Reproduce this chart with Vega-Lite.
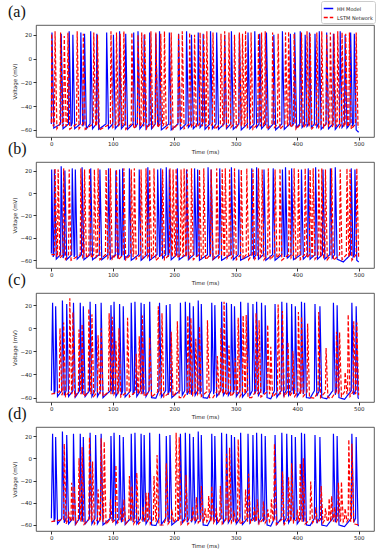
{
"$schema": "https://vega.github.io/schema/vega-lite/v6.json",
"padding": {"left": 7, "top": 0, "right": 8, "bottom": 0},
"bounds": "flush",
"spacing": 25,
"background": "white",
"config": {
 "view": {"stroke": "#333", "strokeWidth": 0.8},
 "axis": {"labelFont": "DejaVu Sans", "titleFont": "DejaVu Sans", "labelFontSize": 5.5, "titleFontSize": 5.5, "titleFontWeight": "normal", "labelColor": "#222", "titleColor": "#222", "tickColor": "#333", "tickSize": 3, "domain": false, "grid": false, "labelPadding": 1.5, "titlePadding": 2, "labelOverlap": false},
 "title": {"font": "Liberation Serif", "fontSize": 16, "fontWeight": "normal", "anchor": "start", "frame": "group", "dx": -28, "offset": 5, "color": "#111"},
 "legend": {"title": null, "orient": "none", "legendX": 285, "legendY": -24, "direction": "vertical", "strokeColor": "#ccc", "fillColor": "white", "padding": 2, "cornerRadius": 2, "labelFont": "DejaVu Sans", "labelFontSize": 5, "labelColor": "#222", "symbolType": "stroke", "symbolSize": 90, "symbolStrokeWidth": 1.4, "rowPadding": 0, "labelOffset": 3}
},
"datasets": {
"aH": [{"t":0,"v":-55},{"t":1,"v":22},{"t":4,"v":-58.5},{"t":15,"v":-55},{"t":16,"v":21},{"t":19,"v":-59},{"t":28,"v":-55},{"t":29,"v":23},{"t":32,"v":-57},{"t":34,"v":-54},{"t":35,"v":20},{"t":38,"v":-59},{"t":47,"v":-55},{"t":48,"v":22},{"t":51,"v":-57},{"t":53,"v":-54},{"t":54,"v":21},{"t":57,"v":-59},{"t":63,"v":-55},{"t":64,"v":23},{"t":67,"v":-59},{"t":73,"v":-55},{"t":74,"v":21},{"t":77,"v":-59.5},{"t":89,"v":-55},{"t":90,"v":22},{"t":93,"v":-59},{"t":100,"v":-55},{"t":101,"v":20},{"t":104,"v":-59},{"t":110,"v":-55},{"t":111,"v":23},{"t":114,"v":-59},{"t":120,"v":-55},{"t":121,"v":21},{"t":124,"v":-59.5},{"t":133,"v":-55},{"t":134,"v":22},{"t":137,"v":-58},{"t":140,"v":-55},{"t":141,"v":23},{"t":144,"v":-59},{"t":150,"v":-55},{"t":151,"v":20},{"t":154,"v":-59},{"t":159,"v":-55},{"t":160,"v":22},{"t":163,"v":-59},{"t":169,"v":-55},{"t":170,"v":21},{"t":173,"v":-57},{"t":175,"v":-54},{"t":176,"v":23},{"t":179,"v":-60},{"t":191,"v":-55},{"t":192,"v":22},{"t":195,"v":-60},{"t":206,"v":-55},{"t":207,"v":21},{"t":210,"v":-59.5},{"t":219,"v":-55},{"t":220,"v":23},{"t":223,"v":-58},{"t":227,"v":-55},{"t":228,"v":20},{"t":231,"v":-59},{"t":238,"v":-55},{"t":239,"v":22},{"t":242,"v":-58},{"t":246,"v":-55},{"t":247,"v":21},{"t":250,"v":-59.5},{"t":258,"v":-55},{"t":259,"v":23},{"t":262,"v":-59},{"t":268,"v":-55},{"t":269,"v":22},{"t":272,"v":-59.5},{"t":281,"v":-55},{"t":282,"v":20},{"t":285,"v":-59},{"t":292,"v":-55},{"t":293,"v":23},{"t":296,"v":-59.5},{"t":305,"v":-55},{"t":306,"v":21},{"t":309,"v":-60},{"t":319,"v":-55},{"t":320,"v":22},{"t":323,"v":-59},{"t":330,"v":-55},{"t":331,"v":23},{"t":334,"v":-58},{"t":338,"v":-55},{"t":339,"v":21},{"t":342,"v":-59},{"t":349,"v":-55},{"t":350,"v":22},{"t":353,"v":-59.5},{"t":361,"v":-55},{"t":362,"v":20},{"t":365,"v":-60},{"t":375,"v":-55},{"t":376,"v":23},{"t":379,"v":-59.5},{"t":388,"v":-55},{"t":389,"v":21},{"t":392,"v":-57},{"t":395,"v":-54},{"t":396,"v":22},{"t":399,"v":-58},{"t":404,"v":-55},{"t":405,"v":23},{"t":408,"v":-58},{"t":412,"v":-55},{"t":413,"v":20},{"t":416,"v":-57},{"t":419,"v":-55},{"t":420,"v":22},{"t":423,"v":-58},{"t":428,"v":-55},{"t":429,"v":21},{"t":432,"v":-57.5},{"t":435,"v":-55},{"t":436,"v":23},{"t":439,"v":-59.5},{"t":447,"v":-55},{"t":448,"v":22},{"t":451,"v":-59},{"t":458,"v":-55},{"t":459,"v":21},{"t":462,"v":-59.5},{"t":469,"v":-55},{"t":470,"v":23},{"t":473,"v":-58},{"t":477,"v":-55},{"t":478,"v":20},{"t":481,"v":-58.5},{"t":486,"v":-55},{"t":487,"v":22},{"t":490,"v":-57},{"t":492,"v":-54},{"t":493,"v":21},{"t":496,"v":-60},{"t":500,"v":-62}],
"aL": [{"t":0,"v":-54},{"t":0.5,"v":21},{"t":3,"v":-57},{"t":5,"v":-55},{"t":6,"v":23},{"t":9,"v":-59},{"t":14,"v":-55},{"t":15,"v":22},{"t":18,"v":-57},{"t":20,"v":-55},{"t":21,"v":19},{"t":24,"v":-57},{"t":26,"v":-55},{"t":27,"v":22},{"t":30,"v":-59.5},{"t":41,"v":-55},{"t":42,"v":23},{"t":45,"v":-59},{"t":51,"v":-55},{"t":52,"v":21},{"t":55,"v":-59.5},{"t":68,"v":-55},{"t":69,"v":22},{"t":72,"v":-57},{"t":74,"v":-55},{"t":75,"v":20},{"t":78,"v":-60},{"t":96,"v":-55},{"t":97,"v":23},{"t":100,"v":-58},{"t":105,"v":-55},{"t":106,"v":22},{"t":109,"v":-57},{"t":111,"v":-55},{"t":112,"v":21},{"t":115,"v":-57},{"t":117,"v":-55},{"t":118,"v":23},{"t":121,"v":-59.5},{"t":130,"v":-55},{"t":131,"v":22},{"t":134,"v":-59},{"t":140,"v":-55},{"t":141,"v":20},{"t":144,"v":-57},{"t":146,"v":-55},{"t":147,"v":22},{"t":150,"v":-57},{"t":151,"v":-55},{"t":152,"v":21},{"t":155,"v":-59},{"t":161,"v":-55},{"t":162,"v":23},{"t":165,"v":-58},{"t":169,"v":-55},{"t":170,"v":22},{"t":173,"v":-58},{"t":177,"v":-55},{"t":178,"v":21},{"t":181,"v":-57},{"t":183,"v":-55},{"t":184,"v":23},{"t":187,"v":-59},{"t":194,"v":-55},{"t":195,"v":22},{"t":198,"v":-59.5},{"t":206,"v":-55},{"t":207,"v":21},{"t":210,"v":-57},{"t":212,"v":-55},{"t":213,"v":23},{"t":216,"v":-59},{"t":224,"v":-55},{"t":225,"v":22},{"t":228,"v":-58},{"t":232,"v":-55},{"t":233,"v":20},{"t":236,"v":-58},{"t":241,"v":-55},{"t":242,"v":22},{"t":245,"v":-57},{"t":247,"v":-55},{"t":248,"v":21},{"t":251,"v":-57},{"t":252,"v":-55},{"t":253,"v":23},{"t":256,"v":-59},{"t":262,"v":-55},{"t":263,"v":22},{"t":266,"v":-59.5},{"t":275,"v":-55},{"t":276,"v":21},{"t":279,"v":-57},{"t":281,"v":-55},{"t":282,"v":23},{"t":285,"v":-57.5},{"t":288,"v":-55},{"t":289,"v":22},{"t":292,"v":-58},{"t":297,"v":-55},{"t":298,"v":20},{"t":301,"v":-58},{"t":305,"v":-55},{"t":306,"v":22},{"t":309,"v":-57},{"t":310,"v":-55},{"t":311,"v":21},{"t":314,"v":-57},{"t":315,"v":-55},{"t":316,"v":23},{"t":319,"v":-58},{"t":324,"v":-55},{"t":325,"v":22},{"t":328,"v":-59.5},{"t":336,"v":-55},{"t":337,"v":21},{"t":340,"v":-57},{"t":341,"v":-55},{"t":342,"v":22},{"t":345,"v":-57},{"t":347,"v":-55},{"t":348,"v":23},{"t":351,"v":-59.5},{"t":359,"v":-55},{"t":360,"v":22},{"t":363,"v":-58},{"t":368,"v":-55},{"t":369,"v":21},{"t":372,"v":-59.5},{"t":380,"v":-55},{"t":381,"v":22},{"t":384,"v":-57},{"t":385,"v":-55},{"t":386,"v":23},{"t":389,"v":-58},{"t":394,"v":-55},{"t":395,"v":21},{"t":398,"v":-59.5},{"t":406,"v":-55},{"t":407,"v":22},{"t":410,"v":-58},{"t":415,"v":-55},{"t":416,"v":23},{"t":419,"v":-57},{"t":420,"v":-55},{"t":421,"v":21},{"t":424,"v":-59},{"t":431,"v":-55},{"t":432,"v":22},{"t":435,"v":-58},{"t":439,"v":-55},{"t":440,"v":23},{"t":443,"v":-58},{"t":447,"v":-55},{"t":448,"v":20},{"t":451,"v":-57.5},{"t":453,"v":-55},{"t":454,"v":22},{"t":457,"v":-57.5},{"t":459,"v":-55},{"t":460,"v":21},{"t":463,"v":-57.5},{"t":465,"v":-55},{"t":466,"v":23},{"t":469,"v":-57.5},{"t":472,"v":-55},{"t":473,"v":22},{"t":476,"v":-57.5},{"t":478,"v":-55},{"t":479,"v":21},{"t":482,"v":-57.5},{"t":484,"v":-55},{"t":485,"v":22},{"t":488,"v":-59.5},{"t":495,"v":-55},{"t":496,"v":22},{"t":499,"v":-58},{"t":500,"v":-58}],
"bH": [{"t":0,"v":-54},{"t":0.5,"v":21},{"t":3,"v":-57},{"t":4,"v":-55},{"t":5,"v":21},{"t":8,"v":-59},{"t":15,"v":-55},{"t":16,"v":24},{"t":19,"v":-58},{"t":21,"v":-55},{"t":22,"v":20},{"t":25,"v":-59.5},{"t":33,"v":-55},{"t":34,"v":22},{"t":37,"v":-57},{"t":38,"v":-55},{"t":39,"v":21},{"t":42,"v":-59},{"t":49,"v":-55},{"t":50,"v":23},{"t":53,"v":-59.5},{"t":63,"v":-55},{"t":64,"v":22},{"t":67,"v":-59.5},{"t":78,"v":-55},{"t":79,"v":21},{"t":82,"v":-59.5},{"t":92,"v":-55},{"t":93,"v":22},{"t":96,"v":-59},{"t":104,"v":-55},{"t":105,"v":20},{"t":108,"v":-57},{"t":110,"v":-55},{"t":111,"v":21},{"t":114,"v":-57},{"t":115,"v":-55},{"t":116,"v":22},{"t":119,"v":-59},{"t":126,"v":-55},{"t":127,"v":22},{"t":130,"v":-60},{"t":142,"v":-55},{"t":143,"v":21},{"t":146,"v":-60},{"t":156,"v":-55},{"t":157,"v":23},{"t":160,"v":-60},{"t":172,"v":-55},{"t":173,"v":21},{"t":176,"v":-57},{"t":177,"v":-55},{"t":178,"v":22},{"t":181,"v":-58},{"t":186,"v":-55},{"t":187,"v":23},{"t":190,"v":-57},{"t":191,"v":-55},{"t":192,"v":21},{"t":195,"v":-59.5},{"t":204,"v":-55},{"t":205,"v":22},{"t":208,"v":-59.5},{"t":219,"v":-55},{"t":220,"v":21},{"t":223,"v":-59.5},{"t":232,"v":-55},{"t":233,"v":22},{"t":236,"v":-57},{"t":237,"v":-55},{"t":238,"v":21},{"t":241,"v":-60},{"t":254,"v":-55},{"t":255,"v":23},{"t":258,"v":-57},{"t":259,"v":-55},{"t":260,"v":21},{"t":263,"v":-59.5},{"t":273,"v":-55},{"t":274,"v":22},{"t":277,"v":-60},{"t":292,"v":-55},{"t":293,"v":23},{"t":296,"v":-59.5},{"t":304,"v":-55},{"t":305,"v":21},{"t":308,"v":-60},{"t":325,"v":-55},{"t":326,"v":22},{"t":329,"v":-58},{"t":333,"v":-55},{"t":334,"v":23},{"t":337,"v":-59},{"t":345,"v":-55},{"t":346,"v":21},{"t":349,"v":-60},{"t":360,"v":-55},{"t":361,"v":22},{"t":364,"v":-60},{"t":375,"v":-55},{"t":376,"v":21},{"t":379,"v":-57},{"t":380,"v":-55},{"t":381,"v":23},{"t":384,"v":-58},{"t":390,"v":-55},{"t":391,"v":22},{"t":394,"v":-59.5},{"t":406,"v":-55},{"t":407,"v":21},{"t":410,"v":-59},{"t":417,"v":-55},{"t":418,"v":22},{"t":421,"v":-59},{"t":429,"v":-55},{"t":430,"v":23},{"t":433,"v":-59},{"t":441,"v":-55},{"t":442,"v":21},{"t":445,"v":-59},{"t":453,"v":-55},{"t":454,"v":22},{"t":457,"v":-58},{"t":461,"v":-55},{"t":462,"v":23},{"t":465,"v":-59},{"t":475,"v":-61.5},{"t":487,"v":-55},{"t":488,"v":22},{"t":491,"v":-57},{"t":493,"v":-55},{"t":494,"v":21},{"t":497,"v":-60},{"t":500,"v":-61.5}],
"bL": [{"t":0,"v":-55},{"t":5,"v":-55},{"t":6,"v":22},{"t":9,"v":-57},{"t":10,"v":-55},{"t":11,"v":21},{"t":14,"v":-58},{"t":19,"v":-55},{"t":20,"v":22},{"t":23,"v":-59},{"t":28,"v":-55},{"t":29,"v":21},{"t":32,"v":-60},{"t":47,"v":-55},{"t":48,"v":22},{"t":51,"v":-57},{"t":53,"v":-55},{"t":54,"v":21},{"t":57,"v":-58},{"t":61,"v":-55},{"t":62,"v":22},{"t":65,"v":-58},{"t":69,"v":-55},{"t":70,"v":21},{"t":73,"v":-57},{"t":75,"v":-55},{"t":76,"v":22},{"t":79,"v":-59.5},{"t":88,"v":-55},{"t":89,"v":21},{"t":92,"v":-58},{"t":95,"v":-55},{"t":96,"v":22},{"t":99,"v":-59},{"t":105,"v":-55},{"t":106,"v":21},{"t":109,"v":-59.5},{"t":117,"v":-55},{"t":118,"v":22},{"t":121,"v":-59.5},{"t":129,"v":-55},{"t":130,"v":21},{"t":133,"v":-57},{"t":134,"v":-55},{"t":135,"v":22},{"t":138,"v":-59},{"t":145,"v":-55},{"t":146,"v":21},{"t":149,"v":-58},{"t":153,"v":-55},{"t":154,"v":22},{"t":157,"v":-57},{"t":159,"v":-55},{"t":160,"v":21},{"t":163,"v":-58},{"t":166,"v":-55},{"t":167,"v":22},{"t":170,"v":-60},{"t":180,"v":-55},{"t":181,"v":21},{"t":184,"v":-59.5},{"t":192,"v":-55},{"t":193,"v":22},{"t":196,"v":-57},{"t":197,"v":-55},{"t":198,"v":21},{"t":201,"v":-57},{"t":202,"v":-55},{"t":203,"v":22},{"t":206,"v":-58},{"t":210,"v":-55},{"t":211,"v":21},{"t":214,"v":-57},{"t":215,"v":-55},{"t":216,"v":22},{"t":219,"v":-57},{"t":220,"v":-55},{"t":221,"v":21},{"t":224,"v":-58},{"t":227,"v":-55},{"t":228,"v":22},{"t":231,"v":-59.5},{"t":240,"v":-55},{"t":241,"v":21},{"t":244,"v":-58},{"t":247,"v":-55},{"t":248,"v":22},{"t":251,"v":-59.5},{"t":259,"v":-55},{"t":260,"v":21},{"t":263,"v":-59},{"t":268,"v":-55},{"t":269,"v":22},{"t":272,"v":-58},{"t":277,"v":-55},{"t":278,"v":21},{"t":281,"v":-57},{"t":282,"v":-55},{"t":283,"v":22},{"t":286,"v":-58},{"t":289,"v":-55},{"t":290,"v":21},{"t":293,"v":-58},{"t":297,"v":-55},{"t":298,"v":22},{"t":301,"v":-59.5},{"t":308,"v":-55},{"t":309,"v":21},{"t":312,"v":-59},{"t":317,"v":-55},{"t":318,"v":22},{"t":321,"v":-59.5},{"t":327,"v":-55},{"t":328,"v":21},{"t":331,"v":-59},{"t":336,"v":-55},{"t":337,"v":22},{"t":340,"v":-57},{"t":342,"v":-55},{"t":343,"v":21},{"t":346,"v":-59.5},{"t":352,"v":-55},{"t":353,"v":22},{"t":356,"v":-59.5},{"t":363,"v":-55},{"t":364,"v":21},{"t":367,"v":-58},{"t":371,"v":-55},{"t":372,"v":22},{"t":375,"v":-60},{"t":386,"v":-55},{"t":387,"v":21},{"t":390,"v":-58},{"t":394,"v":-55},{"t":395,"v":22},{"t":398,"v":-58},{"t":401,"v":-55},{"t":402,"v":21},{"t":405,"v":-59.5},{"t":412,"v":-55},{"t":413,"v":22},{"t":416,"v":-58},{"t":420,"v":-55},{"t":421,"v":21},{"t":424,"v":-57},{"t":425,"v":-55},{"t":426,"v":22},{"t":429,"v":-59},{"t":434,"v":-55},{"t":435,"v":21},{"t":438,"v":-57},{"t":439,"v":-55},{"t":440,"v":22},{"t":443,"v":-57},{"t":445,"v":-55},{"t":446,"v":21},{"t":449,"v":-59.5},{"t":455,"v":-55},{"t":456,"v":22},{"t":459,"v":-60},{"t":469,"v":-55},{"t":470,"v":21},{"t":473,"v":-59.5},{"t":480,"v":-55},{"t":481,"v":22},{"t":484,"v":-57},{"t":485,"v":-55},{"t":486,"v":21},{"t":489,"v":-60},{"t":496,"v":-55},{"t":497,"v":22},{"t":500,"v":-58}],
"cdH": [{"t":0,"v":-54},{"t":2,"v":22},{"t":4.5,"v":-57},{"t":6,"v":-54},{"t":7,"v":19},{"t":10,"v":-59},{"t":17,"v":-54},{"t":18,"v":24},{"t":21,"v":-58},{"t":24,"v":-54},{"t":25,"v":21},{"t":28,"v":-59},{"t":35,"v":-54},{"t":36,"v":22},{"t":39,"v":-59.5},{"t":46,"v":-54},{"t":47,"v":22},{"t":50,"v":-57},{"t":51,"v":-54},{"t":52,"v":19},{"t":55,"v":-59},{"t":62,"v":-54},{"t":63,"v":23},{"t":66,"v":-59},{"t":71,"v":-54},{"t":72,"v":21},{"t":75,"v":-59},{"t":80,"v":-54},{"t":81,"v":22},{"t":84,"v":-60},{"t":96,"v":-54},{"t":97,"v":20},{"t":100,"v":-57},{"t":101,"v":-54},{"t":102,"v":23},{"t":105,"v":-59},{"t":110,"v":-54},{"t":111,"v":21},{"t":114,"v":-57.5},{"t":116,"v":-54},{"t":117,"v":19},{"t":120,"v":-59.5},{"t":129,"v":-54},{"t":130,"v":22},{"t":133,"v":-57.5},{"t":135,"v":-54},{"t":136,"v":23},{"t":139,"v":-59},{"t":145,"v":-54},{"t":146,"v":22},{"t":149,"v":-57},{"t":150,"v":-54},{"t":151,"v":21},{"t":154,"v":-59},{"t":159,"v":-54},{"t":160,"v":23},{"t":163,"v":-60},{"t":170,"v":-60.5},{"t":175,"v":-54},{"t":176,"v":22},{"t":179,"v":-59.5},{"t":186,"v":-54},{"t":187,"v":20},{"t":190,"v":-57.5},{"t":192,"v":-54},{"t":193,"v":21},{"t":196,"v":-60},{"t":209,"v":-54},{"t":210,"v":22},{"t":213,"v":-58},{"t":217,"v":-54},{"t":218,"v":23},{"t":221,"v":-57.5},{"t":224,"v":-54},{"t":225,"v":22},{"t":228,"v":-57.5},{"t":230,"v":-54},{"t":231,"v":19},{"t":234,"v":-58},{"t":238,"v":-54},{"t":239,"v":24},{"t":242,"v":-57},{"t":243,"v":-54},{"t":244,"v":21},{"t":247,"v":-60},{"t":254,"v":-60.5},{"t":260,"v":-54},{"t":261,"v":22},{"t":264,"v":-57},{"t":265,"v":-54},{"t":266,"v":20},{"t":269,"v":-59},{"t":276,"v":-54},{"t":277,"v":23},{"t":280,"v":-58},{"t":284,"v":-54},{"t":285,"v":22},{"t":288,"v":-58},{"t":292,"v":-54},{"t":293,"v":21},{"t":296,"v":-57},{"t":297,"v":-54},{"t":298,"v":19},{"t":301,"v":-59},{"t":307,"v":-54},{"t":308,"v":23},{"t":311,"v":-59.5},{"t":319,"v":-54},{"t":320,"v":22},{"t":323,"v":-58},{"t":327,"v":-54},{"t":328,"v":21},{"t":331,"v":-57},{"t":333,"v":-54},{"t":334,"v":23},{"t":337,"v":-58},{"t":341,"v":-54},{"t":342,"v":22},{"t":345,"v":-57},{"t":347,"v":-54},{"t":348,"v":20},{"t":351,"v":-60},{"t":357,"v":-61},{"t":363,"v":-54},{"t":364,"v":21},{"t":367,"v":-59.5},{"t":374,"v":-54},{"t":375,"v":23},{"t":378,"v":-58},{"t":382,"v":-54},{"t":383,"v":22},{"t":386,"v":-58},{"t":390,"v":-54},{"t":391,"v":21},{"t":394,"v":-57},{"t":396,"v":-54},{"t":397,"v":19},{"t":400,"v":-59},{"t":406,"v":-54},{"t":407,"v":23},{"t":410,"v":-57},{"t":411,"v":-54},{"t":412,"v":22},{"t":415,"v":-60},{"t":421,"v":-60.5},{"t":428,"v":-54},{"t":429,"v":21},{"t":432,"v":-58.5},{"t":436,"v":-54},{"t":437,"v":19},{"t":440,"v":-60},{"t":448,"v":-61},{"t":458,"v":-54},{"t":459,"v":22},{"t":462,"v":-57.5},{"t":464,"v":-54},{"t":465,"v":20},{"t":468,"v":-60},{"t":477,"v":-61.5},{"t":488,"v":-54},{"t":489,"v":22},{"t":492,"v":-57.5},{"t":495,"v":-54},{"t":496,"v":19},{"t":499,"v":-60},{"t":500,"v":-61}],
"cL": [{"t":0,"v":-57},{"t":13,"v":-55},{"t":14,"v":0},{"t":17,"v":-58},{"t":19,"v":-55},{"t":20,"v":5},{"t":23,"v":-59},{"t":29,"v":-55},{"t":30,"v":26},{"t":33,"v":-57},{"t":34,"v":-55},{"t":35,"v":14},{"t":38,"v":-59},{"t":44,"v":-55},{"t":45,"v":-1},{"t":48,"v":-57},{"t":49,"v":-55},{"t":50,"v":3.5},{"t":53,"v":-59},{"t":60,"v":-55},{"t":61,"v":17},{"t":64,"v":-57},{"t":65,"v":-55},{"t":66,"v":12},{"t":69,"v":-59},{"t":75,"v":-55},{"t":76,"v":-6},{"t":79,"v":-57},{"t":80,"v":-55},{"t":81,"v":0},{"t":84,"v":-59},{"t":93,"v":-55},{"t":94,"v":13},{"t":97,"v":-57},{"t":98,"v":-55},{"t":99,"v":10},{"t":102,"v":-57},{"t":104,"v":-55},{"t":105,"v":-11},{"t":108,"v":-57},{"t":109,"v":-55},{"t":110,"v":0},{"t":113,"v":-59.5},{"t":123,"v":-55},{"t":124,"v":9},{"t":127,"v":-59.5},{"t":137,"v":-55},{"t":138,"v":-22},{"t":141,"v":-57},{"t":142,"v":-55},{"t":143,"v":-7},{"t":146,"v":-57},{"t":147,"v":-55},{"t":148,"v":11},{"t":151,"v":-59},{"t":159,"v":-55},{"t":160,"v":-8},{"t":163,"v":-59.5},{"t":173,"v":-55},{"t":174,"v":19},{"t":177,"v":-57},{"t":179,"v":-55},{"t":180,"v":13},{"t":183,"v":-59.5},{"t":194,"v":-55},{"t":195,"v":-3},{"t":198,"v":-59},{"t":204,"v":-55},{"t":205,"v":6},{"t":208,"v":-60},{"t":215,"v":-60},{"t":221,"v":-55},{"t":222,"v":11},{"t":225,"v":-57},{"t":226,"v":-55},{"t":227,"v":9},{"t":230,"v":-58},{"t":234,"v":-55},{"t":235,"v":-9},{"t":238,"v":-57},{"t":240,"v":-55},{"t":241,"v":1.5},{"t":244,"v":-59},{"t":253,"v":-55},{"t":254,"v":7},{"t":257,"v":-60},{"t":263,"v":-60},{"t":269,"v":-55},{"t":270,"v":-24},{"t":273,"v":-57},{"t":275,"v":-55},{"t":276,"v":0.6},{"t":279,"v":-57},{"t":280,"v":-55},{"t":281,"v":23},{"t":284,"v":-58},{"t":288,"v":-55},{"t":289,"v":-15},{"t":292,"v":-59},{"t":298,"v":-55},{"t":299,"v":-26},{"t":302,"v":-57},{"t":303,"v":-55},{"t":304,"v":9},{"t":307,"v":-59},{"t":311,"v":-55},{"t":312,"v":11},{"t":315,"v":-57},{"t":316,"v":-55},{"t":317,"v":11.5},{"t":320,"v":-60},{"t":326,"v":-60},{"t":332,"v":-55},{"t":333,"v":13},{"t":336,"v":-57},{"t":337,"v":-55},{"t":338,"v":7},{"t":341,"v":-59.5},{"t":351,"v":-55},{"t":352,"v":3},{"t":355,"v":-57},{"t":356,"v":-55},{"t":357,"v":-16},{"t":360,"v":-59.5},{"t":368,"v":-55},{"t":369,"v":20.6},{"t":372,"v":-57},{"t":375,"v":-55},{"t":376,"v":15},{"t":379,"v":-59},{"t":384,"v":-55},{"t":385,"v":-12},{"t":388,"v":-59},{"t":392,"v":-55},{"t":393,"v":-20},{"t":396,"v":-59},{"t":401,"v":-55},{"t":402,"v":14},{"t":405,"v":-57},{"t":406,"v":-55},{"t":407,"v":10},{"t":410,"v":-59},{"t":416,"v":-55},{"t":417,"v":4},{"t":420,"v":-60},{"t":428,"v":-60.5},{"t":434,"v":-55},{"t":435,"v":14},{"t":438,"v":-60},{"t":446,"v":-55},{"t":447,"v":-17},{"t":450,"v":-60},{"t":456,"v":-60.5},{"t":463,"v":-55},{"t":464,"v":-3},{"t":467,"v":-57},{"t":468,"v":-55},{"t":469,"v":-3.6},{"t":472,"v":-59},{"t":477,"v":-55},{"t":478,"v":-38},{"t":481,"v":-57},{"t":482,"v":-55},{"t":483,"v":12},{"t":486,"v":-59},{"t":491,"v":-55},{"t":492,"v":6},{"t":495,"v":-57},{"t":496,"v":-55},{"t":497,"v":5},{"t":500,"v":-58}],
"dL": [{"t":0,"v":-57},{"t":20,"v":-55},{"t":21,"v":13},{"t":24,"v":-59},{"t":27,"v":-55},{"t":28,"v":-48},{"t":31,"v":-57},{"t":32,"v":-55},{"t":33,"v":-22},{"t":35.5,"v":-57},{"t":36,"v":-55},{"t":37,"v":-25},{"t":40,"v":-59},{"t":44,"v":-55},{"t":45,"v":0},{"t":48,"v":-57},{"t":49,"v":-55},{"t":50,"v":10},{"t":53,"v":-59.5},{"t":61,"v":-55},{"t":62,"v":19},{"t":65,"v":-57},{"t":66,"v":-55},{"t":67,"v":-3},{"t":70,"v":-59},{"t":75,"v":-55},{"t":76,"v":-28},{"t":79,"v":-57},{"t":80,"v":-55},{"t":81,"v":18},{"t":84,"v":-57},{"t":85,"v":-55},{"t":86,"v":15},{"t":89,"v":-59.5},{"t":95,"v":-55},{"t":96,"v":-37},{"t":99,"v":-58},{"t":104,"v":-55},{"t":105,"v":-6},{"t":108,"v":-58},{"t":112,"v":-55},{"t":113,"v":-45},{"t":116,"v":-57},{"t":117,"v":-55},{"t":118,"v":-37},{"t":121,"v":-59},{"t":126,"v":-55},{"t":127,"v":-16},{"t":129.5,"v":-57},{"t":130,"v":-55},{"t":131,"v":-25},{"t":134,"v":-59},{"t":138,"v":-55},{"t":139,"v":-13},{"t":142,"v":-59},{"t":148,"v":-55},{"t":149,"v":-44},{"t":152,"v":-57},{"t":153,"v":-55},{"t":154,"v":-31},{"t":156.5,"v":-57},{"t":157,"v":-55},{"t":158,"v":-31},{"t":161,"v":-59},{"t":166,"v":-55},{"t":167,"v":-16},{"t":170,"v":-57},{"t":171,"v":-55},{"t":172,"v":3},{"t":175,"v":-60},{"t":182,"v":-60},{"t":186,"v":-55},{"t":187,"v":-4.5},{"t":190,"v":-59},{"t":195,"v":-55},{"t":196,"v":-46},{"t":199,"v":-58},{"t":202,"v":-55},{"t":203,"v":23},{"t":206,"v":-57},{"t":207,"v":-55},{"t":208,"v":19},{"t":211,"v":-59.5},{"t":218,"v":-55},{"t":219,"v":-15},{"t":222,"v":-59.5},{"t":229,"v":-55},{"t":230,"v":-44},{"t":233,"v":-57},{"t":235,"v":-55},{"t":236,"v":-35},{"t":239,"v":-58},{"t":243,"v":-55},{"t":244,"v":-25},{"t":247,"v":-58},{"t":249,"v":-55},{"t":250,"v":-45},{"t":253,"v":-57},{"t":255,"v":-55},{"t":256,"v":-34},{"t":259,"v":-57},{"t":260,"v":-55},{"t":261,"v":-25},{"t":264,"v":-58},{"t":267,"v":-55},{"t":268,"v":-45},{"t":271,"v":-58},{"t":274,"v":-55},{"t":275,"v":-25},{"t":278,"v":-59},{"t":284,"v":-55},{"t":285,"v":4},{"t":288,"v":-57},{"t":289,"v":-55},{"t":290,"v":9.5},{"t":293,"v":-58},{"t":296,"v":-55},{"t":297,"v":-47},{"t":300,"v":-58},{"t":303,"v":-55},{"t":304,"v":17},{"t":307,"v":-59.5},{"t":315,"v":-55},{"t":316,"v":-28},{"t":319,"v":-57},{"t":320,"v":-55},{"t":321,"v":-14},{"t":324,"v":-58},{"t":329,"v":-55},{"t":330,"v":-44},{"t":333,"v":-57},{"t":334,"v":-55},{"t":335,"v":-37},{"t":338,"v":-59},{"t":344,"v":-55},{"t":345,"v":-39},{"t":348,"v":-58},{"t":351,"v":-55},{"t":352,"v":-46},{"t":355,"v":-57},{"t":357,"v":-55},{"t":358,"v":-37},{"t":361,"v":-57},{"t":362,"v":-55},{"t":363,"v":13},{"t":366,"v":-59.5},{"t":375,"v":-55},{"t":376,"v":-12},{"t":379,"v":-59.5},{"t":385,"v":-55},{"t":386,"v":-17},{"t":389,"v":-57},{"t":390,"v":-55},{"t":391,"v":-4.5},{"t":394,"v":-58},{"t":399,"v":-55},{"t":400,"v":-46},{"t":403,"v":-57},{"t":404,"v":-55},{"t":405,"v":-4.5},{"t":408,"v":-57},{"t":409,"v":-55},{"t":410,"v":0},{"t":413,"v":-59},{"t":421,"v":-55},{"t":422,"v":-21},{"t":425,"v":-58},{"t":429,"v":-55},{"t":430,"v":-44},{"t":433,"v":-58},{"t":438,"v":-55},{"t":439,"v":-25},{"t":442,"v":-58},{"t":445,"v":-55},{"t":446,"v":-45},{"t":449,"v":-57},{"t":451,"v":-55},{"t":452,"v":-36},{"t":454.5,"v":-57},{"t":455,"v":-55},{"t":456,"v":-34},{"t":459,"v":-57},{"t":460,"v":-55},{"t":461,"v":-44},{"t":464,"v":-57},{"t":466,"v":-55},{"t":467,"v":-22},{"t":470,"v":-57},{"t":471,"v":-55},{"t":472,"v":-21},{"t":475,"v":-57},{"t":477,"v":-55},{"t":478,"v":-45},{"t":481,"v":-57},{"t":483,"v":-55},{"t":484,"v":17},{"t":487,"v":-57},{"t":488,"v":-55},{"t":489,"v":13},{"t":492,"v":-59},{"t":500,"v":-60}]
},
"vconcat": [
 {"title": "(a)", "width": 338, "height": 112,
  "layer": [
   {"data": {"name": "aH"}, "mark": {"type": "line", "strokeWidth": 1.2},
    "encoding": {
     "x": {"field": "t", "type": "quantitative", "scale": {"domain": [-25, 525], "nice": false}, "axis": {"values": [0,100,200,300,400,500], "title": "Time (ms)", "labelOverlap": false}},
     "y": {"field": "v", "type": "quantitative", "scale": {"domain": [-66, 28.3], "nice": false, "zero": false}, "axis": {"values": [-60,-40,-20,0,20], "title": "Voltage (mV)", "labelOverlap": false, "tickCount": 5}},
     "color": {"datum": "HH Model", "type": "nominal", "scale": {"domain": ["HH Model","LSTM Network"], "range": ["#0000ff","#ff0000"]}},
     "strokeDash": {"datum": "HH Model", "type": "nominal", "scale": {"domain": ["HH Model","LSTM Network"], "range": [[1,0],[4,2]]}}
    }},
   {"data": {"name": "aL"}, "mark": {"type": "line", "strokeWidth": 1.2},
    "encoding": {
     "x": {"field": "t", "type": "quantitative"},
     "y": {"field": "v", "type": "quantitative"},
     "color": {"datum": "LSTM Network", "type": "nominal"},
     "strokeDash": {"datum": "LSTM Network", "type": "nominal"}
    }}
  ]},
 {"title": "(b)", "width": 338, "height": 106,
  "layer": [
   {"data": {"name": "bH"}, "mark": {"type": "line", "strokeWidth": 1.2},
    "encoding": {
     "x": {"field": "t", "type": "quantitative", "scale": {"domain": [-25, 525], "nice": false}, "axis": {"values": [0,100,200,300,400,500], "title": "Time (ms)", "labelOverlap": false}},
     "y": {"field": "v", "type": "quantitative", "scale": {"domain": [-66.9, 27.7], "nice": false, "zero": false}, "axis": {"values": [-60,-40,-20,0,20], "title": "Voltage (mV)", "labelOverlap": false, "tickCount": 5}},
     "color": {"datum": "HH Model", "type": "nominal"},
     "strokeDash": {"datum": "HH Model", "type": "nominal"}
    }},
   {"data": {"name": "bL"}, "mark": {"type": "line", "strokeWidth": 1.2},
    "encoding": {
     "x": {"field": "t", "type": "quantitative"},
     "y": {"field": "v", "type": "quantitative"},
     "color": {"datum": "LSTM Network", "type": "nominal"},
     "strokeDash": {"datum": "LSTM Network", "type": "nominal"}
    }}
  ]},
 {"title": "(c)", "width": 338, "height": 109,
  "layer": [
   {"data": {"name": "cdH"}, "mark": {"type": "line", "strokeWidth": 1.2},
    "encoding": {
     "x": {"field": "t", "type": "quantitative", "scale": {"domain": [-25, 525], "nice": false}, "axis": {"values": [0,100,200,300,400,500], "title": "Time (ms)", "labelOverlap": false}},
     "y": {"field": "v", "type": "quantitative", "scale": {"domain": [-63.8, 30.5], "nice": false, "zero": false}, "axis": {"values": [-60,-40,-20,0,20], "title": "Voltage (mV)", "labelOverlap": false, "tickCount": 5}},
     "color": {"datum": "HH Model", "type": "nominal"},
     "strokeDash": {"datum": "HH Model", "type": "nominal"}
    }},
   {"data": {"name": "cL"}, "mark": {"type": "line", "strokeWidth": 1.2},
    "encoding": {
     "x": {"field": "t", "type": "quantitative"},
     "y": {"field": "v", "type": "quantitative"},
     "color": {"datum": "LSTM Network", "type": "nominal"},
     "strokeDash": {"datum": "LSTM Network", "type": "nominal"}
    }}
  ]},
 {"title": "(d)", "width": 338, "height": 104,
  "layer": [
   {"data": {"name": "cdH"}, "mark": {"type": "line", "strokeWidth": 1.2},
    "encoding": {
     "x": {"field": "t", "type": "quantitative", "scale": {"domain": [-25, 525], "nice": false}, "axis": {"values": [0,100,200,300,400,500], "title": "Time (ms)", "labelOverlap": false}},
     "y": {"field": "v", "type": "quantitative", "scale": {"domain": [-65.4, 28.1], "nice": false, "zero": false}, "axis": {"values": [-60,-40,-20,0,20], "title": "Voltage (mV)", "labelOverlap": false, "tickCount": 5}},
     "color": {"datum": "HH Model", "type": "nominal"},
     "strokeDash": {"datum": "HH Model", "type": "nominal"}
    }},
   {"data": {"name": "dL"}, "mark": {"type": "line", "strokeWidth": 1.2},
    "encoding": {
     "x": {"field": "t", "type": "quantitative"},
     "y": {"field": "v", "type": "quantitative"},
     "color": {"datum": "LSTM Network", "type": "nominal"},
     "strokeDash": {"datum": "LSTM Network", "type": "nominal"}
    }}
  ]}
]
}
